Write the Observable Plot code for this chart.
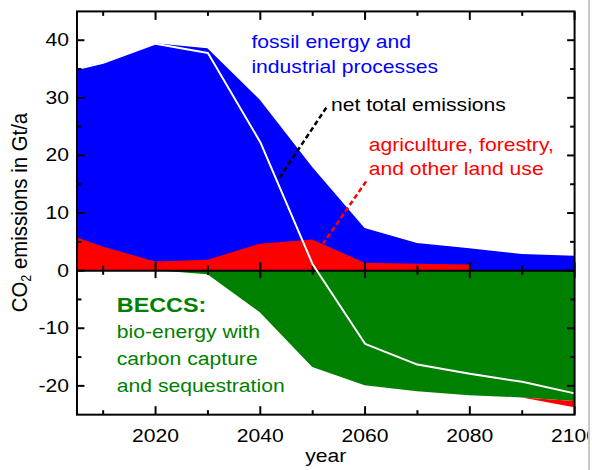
<!DOCTYPE html>
<html><head><meta charset="utf-8">
<script src="https://cdn.jsdelivr.net/npm/d3@7"></script>
<script src="https://cdn.jsdelivr.net/npm/@observablehq/plot@0.6"></script>
<style>
body{margin:0;background:#fff;}
#wrap{width:588px;height:470px;overflow:hidden;border-right:2px solid #c8c8c8;position:relative;}
</style></head><body><div id="wrap"></div>
<script>
const years  = [2005, 2010, 2020, 2030, 2040, 2050, 2060, 2070, 2080, 2090, 2100];
const fossil = [29.3, 32.0, 37.9, 36.7, 25.0, 12.6, 6.0, 3.6, 2.8, 2.8, 2.5];
const afolu  = [5.7, 4.1, 1.5, 1.8, 4.6, 5.3, 1.3, 1.1, 1.0, 0.0, -1.1];
const beccs  = [0, 0, 0, -0.7, -7.3, -16.8, -20.0, -21.0, -21.7, -22.1, -22.7];
const xMajor = [2020, 2040, 2060, 2080, 2100];
const xMinor = [2010, 2030, 2050, 2070, 2090];
const yMajor = [-20, -10, 0, 10, 20, 30, 40];
const yMinor = [-15, -5, 5, 15, 25, 35];

const BLUE = "#0000ff", RED = "#ff0000", GREEN = "#008000";
const FS = 19, SX = 1.12;
const FONT = "'Liberation Sans', Arial, sans-serif";

const rows = years.map((year, i) => ({year, fossil: fossil[i], afolu: afolu[i], beccs: beccs[i]}));
const pos = d => Math.max(d.afolu, 0);

const chart = Plot.plot({
  width: 592, height: 470,
  marginLeft: 77, marginRight: 14, marginTop: 11, marginBottom: 53,
  style: {fontFamily: FONT, fontSize: FS + "px", background: "white", color: "black"},
  x: {domain: [2005, 2100]},
  y: {domain: [-25, 45]},
  marks: [
    Plot.areaY(rows, {x: "year", y1: 0, y2: d => pos(d) + d.fossil, fill: BLUE}),
    Plot.areaY(rows.filter(d => d.afolu > 0), {x: "year", y1: 0, y2: "afolu", fill: RED}),
    Plot.areaY(rows, {x: "year", y1: 0, y2: "beccs", fill: GREEN}),
    Plot.areaY(rows.filter(d => d.afolu <= 0), {x: "year", y1: "beccs", y2: d => d.beccs + d.afolu, fill: RED}),
    Plot.ruleY([0], {stroke: "black", strokeWidth: 2}),
    Plot.ruleX(xMajor, {x: d => d, y1: -1.38, y2: 1.38, stroke: "black", strokeWidth: 2}),
    Plot.ruleX(xMinor, {x: d => d, y1: -0.8, y2: 0.8, stroke: "black", strokeWidth: 2}),
    Plot.lineY(rows, {x: "year", y: d => d.fossil + d.afolu + d.beccs, stroke: "white", strokeWidth: 2}),
    Plot.frame({stroke: "black", strokeWidth: 2}),
    Plot.axisY({anchor: "left", ticks: yMajor, tickSize: -8, tickPadding: 16, tickFormat: d => String(d).replace("−","-"), fontSize: FS, label: null, strokeWidth: 2}),
    Plot.axisY({anchor: "left", ticks: yMinor, tickSize: -5, tickFormat: () => "", label: null, strokeWidth: 2}),
    Plot.axisY({anchor: "right", ticks: yMajor, tickSize: -8, tickFormat: () => "", label: null, strokeWidth: 2}),
    Plot.axisY({anchor: "right", ticks: yMinor, tickSize: -5, tickFormat: () => "", label: null, strokeWidth: 2}),
    Plot.axisX({anchor: "bottom", ticks: xMajor, tickSize: -8, tickPadding: 22, tickFormat: d => String(d), fontSize: FS, label: null, strokeWidth: 2}),
    Plot.axisX({anchor: "bottom", ticks: xMinor, tickSize: -4, tickFormat: () => "", label: null, strokeWidth: 2}),
    Plot.axisX({anchor: "top", ticks: xMajor, tickSize: -8, tickFormat: () => "", label: null, strokeWidth: 2}),
    Plot.axisX({anchor: "top", ticks: xMinor, tickSize: -4, tickFormat: () => "", label: null, strokeWidth: 2}),
    Plot.link([{x1: 2052.6, y1: 28.3, x2: 2043.5, y2: 15.9}], {x1: "x1", y1: "y1", x2: "x2", y2: "y2", stroke: "black", strokeWidth: 2.5, strokeDasharray: "5,3"}),
    Plot.link([{x1: 2060.2, y1: 15.5, x2: 2052.0, y2: 4.7}], {x1: "x1", y1: "y1", x2: "x2", y2: "y2", stroke: RED, strokeWidth: 2.5, strokeDasharray: "5,3"}),
    Plot.text(["fossil energy and\nindustrial processes"], {x: 2038.3, y: 34.26, text: d => d, fill: BLUE, textAnchor: "start", lineAnchor: "bottom", lineHeight: 25 / FS, fontSize: FS}),
    Plot.text(["net total emissions"], {x: 2053.5, y: 27.64, text: d => d, fill: "black", textAnchor: "start", lineAnchor: "bottom", fontSize: FS}),
    Plot.text(["agriculture, forestry,\nand other land use"], {x: 2060.7, y: 16.55, text: d => d, fill: RED, textAnchor: "start", lineAnchor: "bottom", lineHeight: 24.3 / FS, fontSize: FS}),
    Plot.text(["BECCS:"], {x: 2012.6, y: -7.12, text: d => d, fill: GREEN, textAnchor: "start", lineAnchor: "bottom", fontSize: 21, fontWeight: "bold"}),
    Plot.text(["bio-energy with\ncarbon capture\nand sequestration"], {x: 2012.6, y: -21.03, text: d => d, fill: GREEN, textAnchor: "start", lineAnchor: "bottom", lineHeight: 27 / FS, fontSize: FS}),
    Plot.text(["year"], {frameAnchor: "bottom", dy: 48, text: d => d, fill: "black", lineAnchor: "bottom", fontSize: FS})
  ]
});

// horizontal stretch of text as in the reference picture
chart.querySelectorAll("text").forEach(t => {
  const tr = t.getAttribute("transform") || "";
  t.setAttribute("transform", (tr + ` scale(${SX},1)`).trim());
});

// y-axis label with subscript
const LFS = 20.5;
const svg = d3.select(chart);
const yl = svg.append("text")
  .attr("transform", `translate(27,214) rotate(-90) scale(1,${SX})`)
  .attr("text-anchor", "middle")
  .attr("font-family", FONT)
  .attr("font-size", LFS)
  .attr("fill", "black");
yl.append("tspan").text("CO");
yl.append("tspan").attr("font-size", LFS * 0.62).attr("dy", "0.3em").text("2");
yl.append("tspan").attr("dy", "-0.19em").text(" emissions in Gt/a");

document.getElementById("wrap").appendChild(chart);
</script>
</body></html>
